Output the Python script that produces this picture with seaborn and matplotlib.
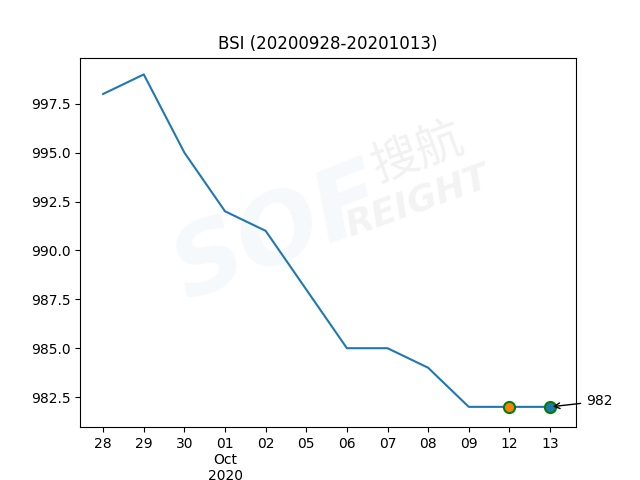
import numpy as np
import matplotlib
matplotlib.use('Agg')
import matplotlib.pyplot as plt
import seaborn as sns
import pandas as pd

# данные индекса BSI
dates = ['28', '29', '30', '01\nOct\n2020', '02', '05', '06', '07', '08', '09', '12', '13']
values = [998, 999, 995, 992, 991, 988, 985, 985, 984, 982, 982, 982]
last_label = '982'

df = pd.DataFrame({'pos': range(len(dates)), 'value': values})

fig, ax = plt.subplots(figsize=(6.4, 4.8), dpi=100)

# водяной знак
ax.text(0.40, 0.52, 'SOF', transform=ax.transAxes, fontsize=70, fontweight='bold',
        fontstyle='italic', color='#e3eef8', alpha=0.35, rotation=22,
        ha='center', va='center', zorder=0)
ax.text(0.68, 0.74, '搜航', transform=ax.transAxes, fontsize=34,
        family=['Noto Sans CJK SC', 'DejaVu Sans'], color='#eeeeee', alpha=0.8,
        rotation=20, ha='center', va='center', zorder=0)
ax.text(0.68, 0.61, 'REIGHT', transform=ax.transAxes, fontsize=26, fontweight='bold',
        fontstyle='italic', color='#f3f3f3', rotation=20, ha='center', va='center', zorder=0)

sns.lineplot(data=df, x='pos', y='value', ax=ax, color='#1f77b4', zorder=2)

# последние две точки
ax.plot(df['pos'].iloc[-2], df['value'].iloc[-2], 'o', markersize=8,
        markerfacecolor='#ff7f0e', markeredgecolor='green', markeredgewidth=1.5, zorder=3)
ax.plot(df['pos'].iloc[-1], df['value'].iloc[-1], 'o', markersize=8,
        markerfacecolor='#1f77b4', markeredgecolor='green', markeredgewidth=1.5, zorder=3)

ax.annotate(last_label, xy=(df['pos'].iloc[-1], df['value'].iloc[-1]),
            xytext=(26, 4), textcoords='offset points', fontsize=10,
            va='center', ha='left', annotation_clip=False,
            arrowprops=dict(arrowstyle='->', color='black'))

ax.set_xticks(df['pos'])
ax.set_xticklabels(dates)
ax.set_xlim(-0.57, 11.64)
ax.set_ylim(980.96, 999.86)
ax.set(xlabel='', ylabel='')
ax.set_title('BSI (20200928-20201013)')

fig.savefig('out.png')
